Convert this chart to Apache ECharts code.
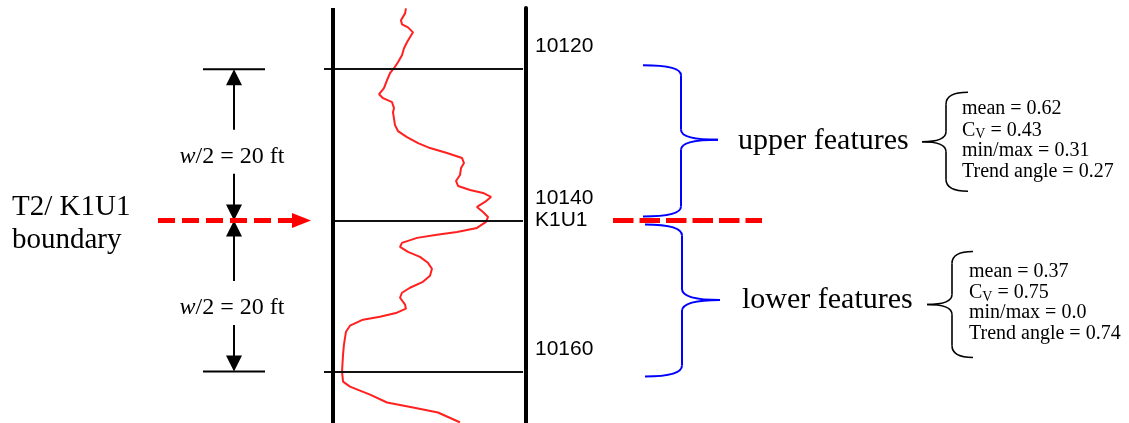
<!DOCTYPE html>
<html><head><meta charset="utf-8">
<script src="https://cdn.jsdelivr.net/npm/echarts@6/dist/echarts.min.js"></script>
<style>html,body{margin:0;padding:0;background:#fff}#c{width:1129px;height:423px}</style>
</head><body><div id="c"></div>
<script>
// ---------------- data ----------------
const depthLabels = [10120, 10140, 10160];
const boundaryDepth = 10143;
const boundaryName = 'K1U1';
const halfWindowFt = 20;
const boundaryText = ['T2/ K1U1', 'boundary'];
const featureLabels = ['upper features', 'lower features'];
const statNames = ['mean', 'C', 'min/max', 'Trend angle'];
const upperStats = ['0.62', '0.43', '0.31', '0.27'];
const lowerStats = ['0.37', '0.75', '0.0', '0.74'];
// log curve (depth in ft, GR in arbitrary units 0..150 across the track)
const logDepth = [10114.95, 10115.61, 10116.53, 10117.06, 10117.46, 10118.12, 10118.78, 10119.44, 10120.23, 10121.15,
  10122.08, 10122.87, 10123.53, 10124.45, 10125.51, 10126.30, 10126.83, 10127.36, 10128.15, 10128.68,
  10130.39, 10131.18, 10131.98, 10132.77, 10133.43, 10134.09, 10134.75, 10135.41, 10136.07, 10136.99,
  10137.78, 10138.44, 10138.97, 10139.37, 10139.90, 10140.56, 10141.22, 10141.48, 10141.88, 10142.54,
  10143.20, 10143.99, 10144.52, 10144.91, 10145.31, 10145.97, 10146.50, 10147.16, 10147.82, 10148.61,
  10149.40, 10150.33, 10151.12, 10151.91, 10152.57, 10153.23, 10154.15, 10154.68, 10155.21, 10155.74,
  10156.13, 10156.93, 10157.72, 10159.44, 10160.76, 10163.00, 10164.32, 10164.98, 10166.04, 10167.09,
  10167.75, 10168.41, 10169.60, 10169.73];
const logGR = [56.7, 56.0, 52.8, 53.6, 58.3, 62.2, 59.8, 57.5, 55.2, 53.6,
  50.5, 47.4, 44.3, 42.0, 39.6, 35.8, 38.9, 45.9, 47.4, 46.6,
  48.2, 50.5, 57.5, 66.1, 75.4, 88.6, 100.3, 101.8, 99.5, 98.7,
  95.6, 97.2, 106.5, 116.6, 122.8, 118.1, 111.9, 111.1, 116.6, 120.5,
  118.9, 111.9, 96.4, 80.8, 65.3, 53.6, 52.1, 58.3, 67.6, 73.8,
  76.9, 75.4, 69.9, 59.8, 53.6, 52.1, 56.0, 56.7, 49.7, 36.5,
  23.3, 13.2, 10.1, 8.5, 7.8, 7.0, 7.8, 13.2, 28.8, 42.0,
  62.2, 81.6, 97.2, 98.7];

// ---------------- chart ----------------
const chart = echarts.init(document.getElementById('c'), null, {renderer: 'canvas'});
const topDepth = boundaryDepth - halfWindowFt;
const botDepth = boundaryDepth + halfWindowFt;
const lineEnd = 147.7;

chart.setOption({
  animation: false,
  backgroundColor: '#ffffff',
  grid: {left: 324, right: 603, top: 8, height: 415},
  xAxis: {type: 'value', min: -7, max: 150, show: false},
  yAxis: {
    type: 'value', inverse: true, min: 10114.9, max: 10169.8, position: 'right',
    axisLine: {show: true, onZero: false, lineStyle: {color: '#000', width: 4}},
    axisTick: {show: false}, splitLine: {show: false},
    axisLabel: {
      customValues: depthLabels.concat([boundaryDepth]),
      formatter: v => (v === boundaryDepth ? boundaryName : String(v)),
      margin: 9, color: '#000', fontSize: 21, fontFamily: '"Liberation Sans", Arial, sans-serif'
    }
  },
  series: [{
    type: 'line',
    data: logDepth.map((d, i) => [logGR[i], d]),
    symbol: 'none',
    lineStyle: {color: '#ff2020', width: 2},
    z: 3,
    markLine: {
      silent: true, symbol: ['none', 'none'], label: {show: false},
      lineStyle: {color: '#111', width: 2, type: 'solid'},
      emphasis: {disabled: true},
      data: [
        [{coord: [-7, topDepth]}, {coord: [lineEnd, topDepth]}],
        [{coord: [0, boundaryDepth]}, {coord: [lineEnd, boundaryDepth]}],
        [{coord: [-7, botDepth]}, {coord: [lineEnd, botDepth]}],
        {xAxis: 0, lineStyle: {width: 4, color: '#000', type: 'solid'}}
      ]
    }
  }]
});

// ---------------- annotations ----------------
const yOf = d => chart.convertToPixel({yAxisIndex: 0}, d);
const yT = yOf(topDepth), yB = yOf(boundaryDepth), yL = yOf(botDepth);
const serif = '"Liberation Serif", "Times New Roman", serif';
const els = [];

function txt(x, y, text, size, extra) {
  els.push({type: 'text', x: x, y: y, silent: true,
    style: Object.assign({text: text, fill: '#000', fontSize: size, fontFamily: serif,
      align: 'left', verticalAlign: 'middle'}, extra || {})});
}
function seg(x1, y1, x2, y2, color, lw, dash) {
  els.push({type: 'line', silent: true, shape: {x1, y1, x2, y2},
    style: {stroke: color, lineWidth: lw, lineDash: dash || null}});
}
function tri(pts, color) {
  els.push({type: 'polygon', silent: true, shape: {points: pts}, style: {fill: color}});
}
function brace(xe, xs, xt, yt, ym, yb, r, rm, color, lw) {
  const st = {stroke: color, lineWidth: lw, fill: 'none'};
  const q = (x1, y1, cx, cy, x2, y2) => els.push({type: 'bezierCurve', silent: true,
    shape: {x1, y1, cpx1: cx, cpy1: cy, x2, y2}, style: st});
  q(xe, yt, xs, yt, xs, yt + r);
  seg(xs, yt + r, xs, ym - rm, color, lw);
  q(xs, ym - rm, xs, ym, xt, ym);
  q(xt, ym, xs, ym, xs, ym + rm);
  seg(xs, ym + rm, xs, yb - r, color, lw);
  q(xs, yb - r, xs, yb, xe, yb);
}

// boundary label on the left
txt(12, yB - 13, boundaryText[0], 29);
txt(12, yB + 20, boundaryText[1], 29);

// dimension arrows (w/2)
const ax = 234, ah = 16, aw = 8;
seg(203, yT, 265, yT, '#000', 2);
seg(203, yL, 265, yL, '#000', 2);
[[yT, yB], [yB, yL]].forEach(([ya, yb]) => {
  const tm = (ya + yb) / 2 + 12;
  seg(ax, ya + ah - 1, ax, tm - 27, '#000', 2);
  tri([[ax, ya], [ax - aw, ya + ah], [ax + aw, ya + ah]], '#000');
  seg(ax, tm + 17, ax, yb - ah + 1, '#000', 2);
  tri([[ax, yb], [ax - aw, yb - ah], [ax + aw, yb - ah]], '#000');
  els.push({type: 'text', x: 232, y: tm, silent: true, style: {
    text: '{i|w}{n|/2 = ' + halfWindowFt + ' ft}', align: 'center', verticalAlign: 'middle',
    rich: {i: {fontSize: 24, fontFamily: serif, fontStyle: 'italic', fill: '#000'},
           n: {fontSize: 24, fontFamily: serif, fill: '#000'}}}});
});

// red dashed boundary arrow (left) and dashed line (right)
seg(158, yB, 294, yB, '#ff0000', 5, [17, 7]);
tri([[311, yB], [292, yB - 7.5], [292, yB + 7.5]], '#ff0000');
seg(613, yB, 762, yB, '#ff0000', 5, [20.5, 6]);

// blue braces + feature labels
const upMid = (yT + yB) / 2 - 5, loMid = (yB + yL) / 2 + 4;
brace(643, 681, 718, yT - 4, upMid, yB - 4, 10, 10, '#0000ff', 2);
brace(645, 682, 720, yB + 4, loMid, yL + 5, 11, 11, '#0000ff', 2);
txt(738, upMid + 1, featureLabels[0], 30);
txt(742, loMid + 0, featureLabels[1], 30);

// stats braces and text
function statsBlock(xText, xe, xs, xt, yc, half, values) {
  brace(xe, xs, xt, yc - half, yc, yc + half, 12, 10, '#000', 1.6);
  const offs = [-33, -11.5, 8.5, 29.5];
  values.forEach((v, i) => {
    const text = i === 1 ? '{n|C}{s|V}{n| = ' + v + '}' : '{n|' + statNames[i] + ' = ' + v + '}';
    els.push({type: 'text', x: xText, y: yc + offs[i], silent: true, style: {
      text: text, align: 'left', verticalAlign: 'middle',
      rich: {n: {fontSize: 20, fontFamily: serif, fill: '#000', lineHeight: 22},
             s: {fontSize: 14, fontFamily: serif, fill: '#000', lineHeight: 10, verticalAlign: 'bottom'}}}});
  });
}
statsBlock(962, 968, 946, 922, upMid + 2, 49.5, upperStats);
statsBlock(969, 973, 952, 927, loMid + 4.5, 53, lowerStats);

chart.setOption({graphic: {elements: els}});
</script>
</body></html>
